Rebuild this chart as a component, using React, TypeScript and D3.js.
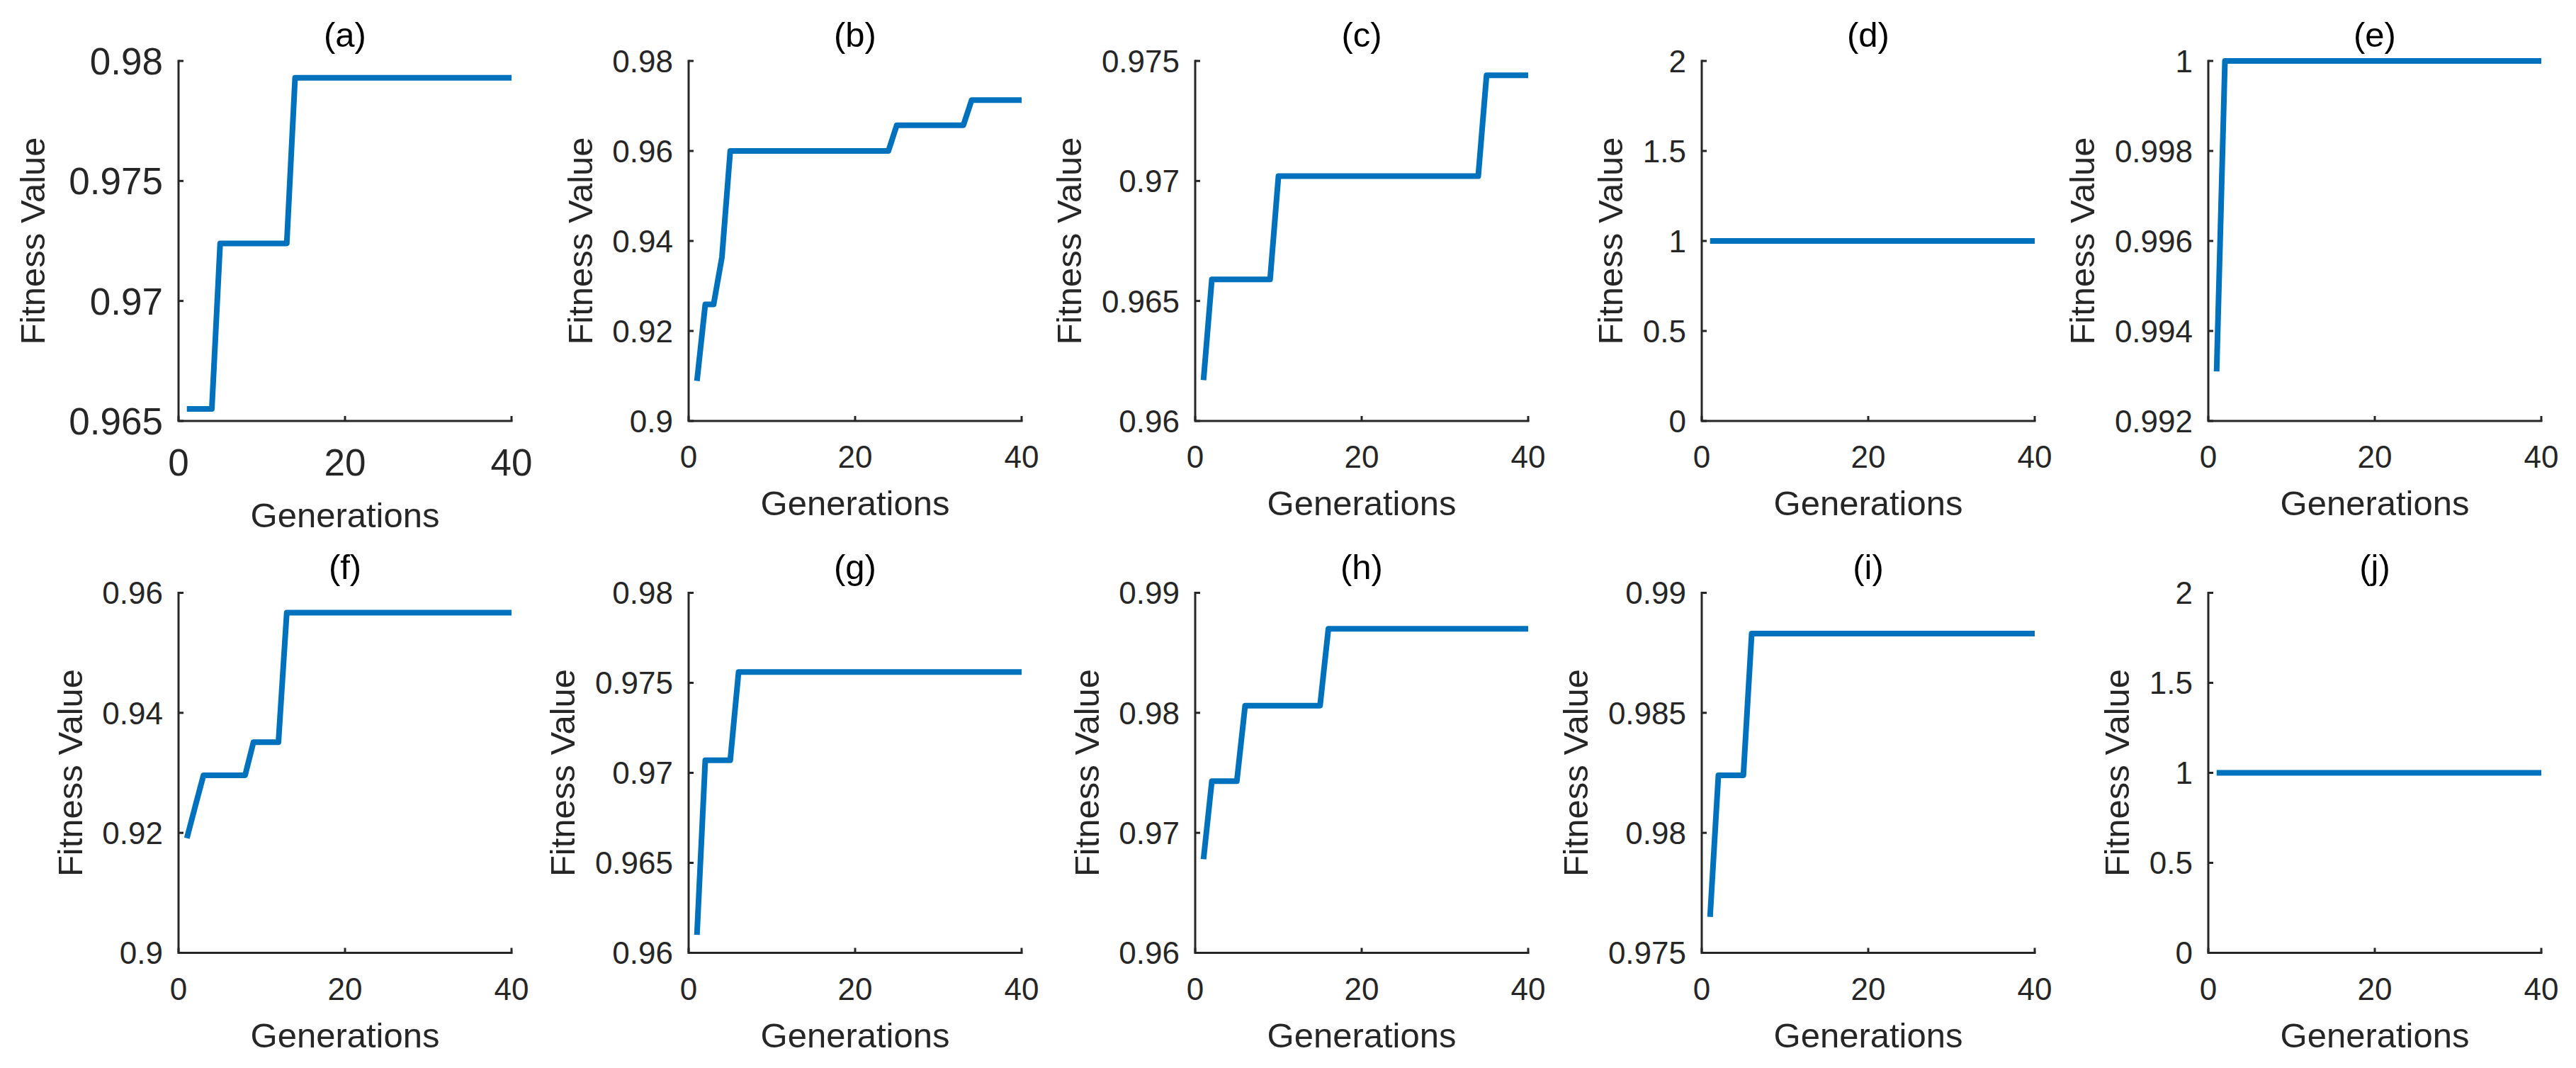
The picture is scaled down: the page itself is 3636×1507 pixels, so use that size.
import * as d3 from 'd3';

// Generations run 1..40; each series lists the generations where the best
// fitness changes, so the polyline matches the per-generation plot.
const X_TICKS = [0, 20, 40];
const TITLES = ['(a)', '(b)', '(c)', '(d)', '(e)', '(f)', '(g)', '(h)', '(i)', '(j)'];

const GENS_A = [1, 4, 5, 13, 14, 40];
const FIT_A = [0.9655, 0.9655, 0.9724, 0.9724, 0.9793, 0.9793];
const YTICKS_A = [0.965, 0.97, 0.975, 0.98];

const GENS_B = [1, 2, 3, 4, 5, 24, 25, 33, 34, 40];
const FIT_B = [0.9089, 0.9259, 0.9259, 0.9364, 0.96, 0.96, 0.9657, 0.9657, 0.9713, 0.9713];
const YTICKS_B = [0.9, 0.92, 0.94, 0.96, 0.98];

const GENS_C = [1, 2, 9, 10, 34, 35, 40];
const FIT_C = [0.9617, 0.9659, 0.9659, 0.9702, 0.9702, 0.9744, 0.9744];
const YTICKS_C = [0.96, 0.965, 0.97, 0.975];

const GENS_D = [1, 40];
const FIT_D = [1, 1];
const YTICKS_D = [0, 0.5, 1, 1.5, 2];

const GENS_E = [1, 2, 40];
const FIT_E = [0.9931, 1, 1];
const YTICKS_E = [0.992, 0.994, 0.996, 0.998, 1];

const GENS_F = [1, 2, 3, 8, 9, 12, 13, 40];
const FIT_F = [0.9191, 0.9244, 0.9296, 0.9296, 0.9351, 0.9351, 0.9567, 0.9567];
const YTICKS_F = [0.9, 0.92, 0.94, 0.96];

const GENS_G = [1, 2, 5, 6, 40];
const FIT_G = [0.961, 0.9707, 0.9707, 0.9756, 0.9756];
const YTICKS_G = [0.96, 0.965, 0.97, 0.975, 0.98];

const GENS_H = [1, 2, 5, 6, 15, 16, 40];
const FIT_H = [0.9678, 0.9743, 0.9743, 0.9806, 0.9806, 0.987, 0.987];
const YTICKS_H = [0.96, 0.97, 0.98, 0.99];

const GENS_I = [1, 2, 5, 6, 40];
const FIT_I = [0.9765, 0.9824, 0.9824, 0.9883, 0.9883];
const YTICKS_I = [0.975, 0.98, 0.985, 0.99];

const GENS_J = [1, 40];
const FIT_J = [1, 1];
const YTICKS_J = [0, 0.5, 1, 1.5, 2];

const SERIES = [
  { gens: GENS_A, fit: FIT_A, ticks: YTICKS_A },
  { gens: GENS_B, fit: FIT_B, ticks: YTICKS_B },
  { gens: GENS_C, fit: FIT_C, ticks: YTICKS_C },
  { gens: GENS_D, fit: FIT_D, ticks: YTICKS_D },
  { gens: GENS_E, fit: FIT_E, ticks: YTICKS_E },
  { gens: GENS_F, fit: FIT_F, ticks: YTICKS_F },
  { gens: GENS_G, fit: FIT_G, ticks: YTICKS_G },
  { gens: GENS_H, fit: FIT_H, ticks: YTICKS_H },
  { gens: GENS_I, fit: FIT_I, ticks: YTICKS_I },
  { gens: GENS_J, fit: FIT_J, ticks: YTICKS_J },
];

const WIDTH = 3636;
const HEIGHT = 1507;
const COL_LEFT = [252, 972, 1687, 2402, 3117];
const ROW_TOP = [86, 836.5];
const AX_W = 470;
const AX_H = 508;

const FONT = '"Liberation Sans", Arial, Helvetica, sans-serif';
const AXIS_COLOR = '#262626';
const LINE_COLOR = '#0072BD';
const LABEL_SIZE = 49;

const fmt = (v: number) => String(+v.toFixed(4));

// rough Arial widths, used to place the y label clear of the tick labels
const textWidth = (s: string, size: number) =>
  s.split('').reduce((w, ch) => w + (ch === '.' ? 0.278 : 0.556), 0) * size;

interface PanelProps {
  left: number;
  top: number;
  title: string;
  gens: number[];
  fit: number[];
  ticks: number[];
  tickSize: number;
}

function Panel({ left, top, title, gens, fit, ticks, tickSize }: PanelProps) {
  const x = d3.scaleLinear().domain([0, 40]).range([left, left + AX_W]);
  const y = d3
    .scaleLinear()
    .domain([ticks[0], ticks[ticks.length - 1]])
    .range([top + AX_H, top]);

  const line = d3
    .line<number>()
    .x((_, i) => x(gens[i]))
    .y(d => y(d));

  const bottom = top + AX_H;
  const big = tickSize > 48;
  const maxTickW = Math.max(...ticks.map(t => textWidth(fmt(t), tickSize)));
  const ylabelX = left - 22 - maxTickW - (big ? 34 : 28.5);
  const tickLen = 7;

  return (
    <g>
      <path
        d={line(fit) ?? ''}
        fill="none"
        stroke={LINE_COLOR}
        strokeWidth={8}
        strokeLinejoin="round"
      />

      {/* axes: left and bottom only, inward ticks */}
      <path
        d={`M${left},${top} V${bottom} H${left + AX_W}`}
        fill="none"
        stroke={AXIS_COLOR}
        strokeWidth={3}
        strokeLinecap="square"
      />
      {ticks.map(t => (
        <line
          key={`yt-${t}`}
          x1={left}
          x2={left + tickLen}
          y1={y(t)}
          y2={y(t)}
          stroke={AXIS_COLOR}
          strokeWidth={3}
        />
      ))}
      {X_TICKS.map(t => (
        <line
          key={`xt-${t}`}
          x1={x(t)}
          x2={x(t)}
          y1={bottom}
          y2={bottom - tickLen}
          stroke={AXIS_COLOR}
          strokeWidth={3}
        />
      ))}

      {ticks.map(t => (
        <text
          key={`yl-${t}`}
          x={left - 22}
          y={y(t) + tickSize * 0.36}
          textAnchor="end"
          fontSize={tickSize}
          fontFamily={FONT}
          fill={AXIS_COLOR}
        >
          {fmt(t)}
        </text>
      ))}
      {X_TICKS.map(t => (
        <text
          key={`xl-${t}`}
          x={x(t)}
          y={bottom + (big ? 77 : 66)}
          textAnchor="middle"
          fontSize={tickSize}
          fontFamily={FONT}
          fill={AXIS_COLOR}
        >
          {t}
        </text>
      ))}

      <text
        x={left + AX_W / 2}
        y={bottom + (big ? 150 : 133)}
        textAnchor="middle"
        fontSize={LABEL_SIZE}
        fontFamily={FONT}
        fill={AXIS_COLOR}
      >
        Generations
      </text>
      <text
        transform={`translate(${ylabelX},${top + AX_H / 2}) rotate(-90)`}
        textAnchor="middle"
        fontSize={LABEL_SIZE}
        fontFamily={FONT}
        fill={AXIS_COLOR}
      >
        Fitness Value
      </text>
      <text
        x={left + AX_W / 2}
        y={top - 20}
        textAnchor="middle"
        fontSize={LABEL_SIZE}
        fontFamily={FONT}
        fill="#000"
      >
        {title}
      </text>
    </g>
  );
}

export default function App() {
  return (
    <svg
      width={WIDTH}
      height={HEIGHT}
      viewBox={`0 0 ${WIDTH} ${HEIGHT}`}
      style={{ position: 'absolute', left: 0, top: 0, background: '#fff' }}
    >
      <rect width={WIDTH} height={HEIGHT} fill="#fff" />
      {SERIES.map((s, i) => (
        <Panel
          key={TITLES[i]}
          left={COL_LEFT[i % 5]}
          top={ROW_TOP[Math.floor(i / 5)]}
          title={TITLES[i]}
          gens={s.gens}
          fit={s.fit}
          ticks={s.ticks}
          tickSize={i === 0 ? 53 : 44}
        />
      ))}
    </svg>
  );
}
